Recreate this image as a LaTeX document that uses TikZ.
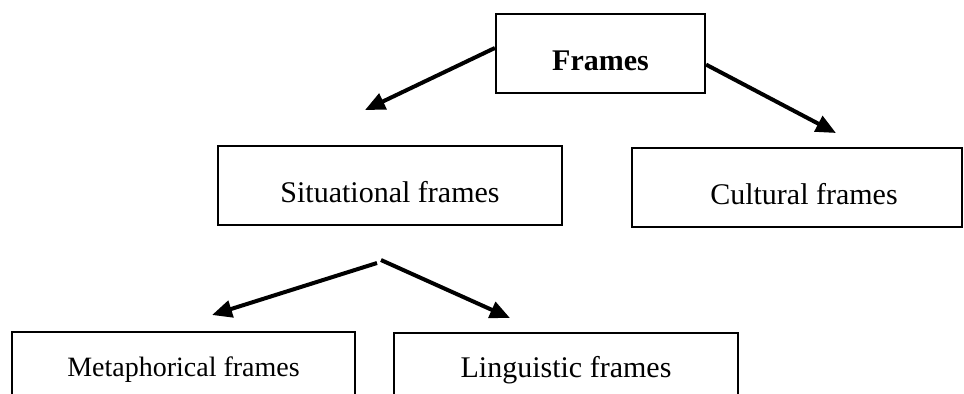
\documentclass[tikz,border=0pt]{standalone}
\usepackage{fontspec}
\setmainfont{Liberation Serif}
\usetikzlibrary{arrows.meta}
\tikzstyle{framebox}=[rectangle, draw, line width=1.1pt, minimum height=39.5pt, inner sep=0pt, text height=19pt, text depth=2.1pt, font=\fontsize{15}{18}\selectfont]
\tikzstyle{lowbox}=[framebox, text height=9pt, text depth=4.5pt]
\tikzstyle{link}=[line width=2pt, -{Triangle[length=10pt,width=8.5pt]}]

\begin{document}
\begin{tikzpicture}[x=0.5pt,y=-0.5pt]
  \useasboundingbox (0,0) rectangle (964,393);
  \node[framebox, minimum width=104.5pt, font=\fontsize{15}{18}\selectfont\bfseries] (frames) at (600.5,53.5) {Frames};
  \node[framebox, minimum width=172pt] (situational) at (390,185.5) {Situational frames};
  \node[framebox, minimum width=165pt] (cultural) at (797,187.5) {\hspace*{7pt}Cultural frames};
  \node[lowbox, minimum width=171.5pt, font=\fontsize{14}{17}\selectfont] (metaphorical) at (183.5,371.5) {Metaphorical frames};
  \node[lowbox, minimum width=172pt] (linguistic) at (566,372.5) {Linguistic frames};

  \coordinate (situationaltip) at (365,110);
  \coordinate (culturaltip) at (836,133);
  \coordinate (splitleft) at (377,263);
  \coordinate (splitright) at (381,260);
  \coordinate (metaphoricaltip) at (212,315);
  \coordinate (linguistictip) at (510,318);

  \draw[link] (frames.177) -- (situationaltip);
  \draw[link] (frames.-6) -- (culturaltip);
  \draw[link] (splitleft) -- (metaphoricaltip);
  \draw[link] (splitright) -- (linguistictip);
\end{tikzpicture}
\end{document}
